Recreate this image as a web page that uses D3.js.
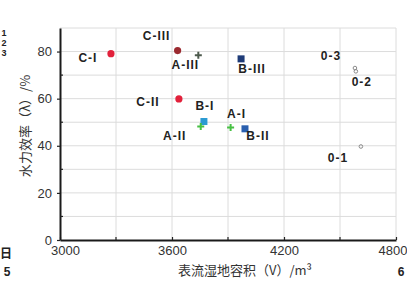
<!DOCTYPE html>
<html>
<head>
<meta charset="utf-8">
<script src="https://cdn.jsdelivr.net/npm/d3@7"></script>
<style>
  body { margin: 0; background: #fff; }
  svg { display: block; }
  .tick text { font-family: "Liberation Sans", Arial, sans-serif; font-size: 13px; fill: #333; }
  .lbl { font-family: "Liberation Sans", Arial, sans-serif; font-size: 12px; font-weight: bold; fill: #222; }
</style>
</head>
<body>
<svg id="chart" width="407" height="297"></svg>
<script>
// data
var names  = ["C-I", "C-III", "A-III", "B-III", "C-II", "B-I", "A-II", "A-I", "B-II", "0-3", "0-2", "0-1"];
var group  = ["C", "C3", "A3", "B3", "C", "B1", "A", "A", "B2", "O", "O", "O"];
var volume = [3273, 3630, 3741, 3970, 3637, 3771, 3754, 3914, 3991, 4580, 4585, 4612];
var effic  = [79.1, 80.4, 78.4, 76.9, 59.9, 50.3, 48.2, 47.8, 47.2, 73.0, 71.6, 39.7];
var xTicks = [3000, 3600, 4200, 4800];
var yTicks = [0, 20, 40, 60, 80];

var colors = { C: "#e2213b", C3: "#9b2a30", A3: "#4d5a4d", B3: "#1f3c78", B1: "#2b9ad2",
               A: "#47c043", B2: "#2a5fae", O: "#8a8a8a" };
// label offsets from each point (px)
var labelOff = [[-23, 5], [-21, -14], [-13, 11], [11, 11], [-31, 4], [1, -15],
                [-26, 10], [6, -13], [13, 8], [-24, -11], [6, 11], [-23, 12]];

var svg = d3.select("#chart");
var dim = { left: 60, right: 11, top: 28, bottom: 57, w: 407, h: 297 };

var xScale = d3.scaleLinear().domain([3000, 4800]).range([dim.left, dim.w - dim.right]);
var yScale = d3.scaleLinear().domain([0, 90]).range([dim.h - dim.bottom, dim.top]);

// grid
svg.append("g").selectAll("line.vg")
   .data(d3.range(3300, 4801, 300))
   .enter().append("line")
   .attr("x1", function(d) { return xScale(d); }).attr("x2", function(d) { return xScale(d); })
   .attr("y1", yScale(0)).attr("y2", yScale(90))
   .style("stroke", "#dcdcdc").style("stroke-width", 1);
svg.append("g").selectAll("line.hg")
   .data(d3.range(10, 91, 10))
   .enter().append("line")
   .attr("x1", xScale(3000)).attr("x2", xScale(4800))
   .attr("y1", function(d) { return yScale(d); }).attr("y2", function(d) { return yScale(d); })
   .style("stroke", "#dcdcdc").style("stroke-width", 1);

// axes
var xAxis = d3.axisBottom(xScale).tickValues(xTicks).tickSizeInner(-3).tickSizeOuter(0).tickPadding(6).tickFormat(d3.format("d"));
var gx = svg.append("g").attr("transform", "translate(0," + yScale(0) + ")").call(xAxis);
var yAxis = d3.axisLeft(yScale).tickValues(yTicks).tickSize(3).tickSizeOuter(0).tickPadding(5);
var gy = svg.append("g").attr("transform", "translate(" + xScale(3000) + ",0)").call(yAxis);
// minor ticks
svg.append("g").selectAll("line")
   .data(d3.range(10, 90, 20))
   .enter().append("line")
   .attr("x1", xScale(3000)).attr("x2", xScale(3000) + 3)
   .attr("y1", function(d) { return yScale(d); }).attr("y2", function(d) { return yScale(d); })
   .style("stroke", "#222").style("stroke-width", 1.2);
svg.append("g").selectAll("line")
   .data([3300, 3900, 4500])
   .enter().append("line")
   .attr("x1", function(d) { return xScale(d); }).attr("x2", function(d) { return xScale(d); })
   .attr("y1", yScale(0)).attr("y2", yScale(0) - 3)
   .style("stroke", "#222").style("stroke-width", 1.2);
[gx, gy].forEach(function(g) {
  g.select(".domain").style("stroke", "#1a1a1a").style("stroke-width", 2);
  g.selectAll(".tick line").style("stroke", "#222").style("stroke-width", 1.2);
});
gx.selectAll(".tick text").filter(function(d) { return d == 3000; }).attr("dx", 5);
gx.selectAll(".tick text").filter(function(d) { return d == 4800; })
  .attr("text-anchor", "end").attr("x", 11);

// points
var pts = svg.append("g");
names.forEach(function(n, i) {
  var cx = xScale(volume[i]), cy = yScale(effic[i]), g = group[i], c = colors[g];
  if (g[0] == "C") {
    pts.append("circle").attr("cx", cx).attr("cy", cy).attr("r", 3.6).style("fill", c);
  } else if (g[0] == "A") {
    pts.append("path").attr("d", "M" + (cx - 3.5) + "," + cy + "h7M" + cx + "," + (cy - 3.5) + "v7")
       .style("stroke", c).style("stroke-width", 2);
  } else if (g[0] == "B") {
    pts.append("rect").attr("x", cx - 3.5).attr("y", cy - 3.5).attr("width", 7).attr("height", 7).style("fill", c);
  } else {
    pts.append("circle").attr("cx", cx).attr("cy", cy).attr("r", 1.8)
       .style("fill", "none").style("stroke", c).style("stroke-width", 1);
  }
  pts.append("text").attr("class", "lbl")
     .attr("x", cx + labelOff[i][0]).attr("y", cy + labelOff[i][1])
     .attr("text-anchor", "middle").attr("dominant-baseline", "middle")
     .style("letter-spacing", "1px")
     .text(n);
});

// axis titles
svg.append("text")
   .attr("transform", "translate(26," + 126 + ") rotate(-90)")
   .attr("text-anchor", "middle").attr("dominant-baseline", "middle")
   .style("font-family", "'Noto Sans CJK SC', sans-serif").style("font-size", "13px").style("fill", "#333")
   .text("水力效率（λ）/%");
svg.append("text")
   .attr("x", 245).attr("y", 271)
   .attr("text-anchor", "middle").attr("dominant-baseline", "middle")
   .style("font-family", "'Noto Sans CJK SC', sans-serif").style("font-size", "13px").style("fill", "#333")
   .text("表流湿地容积（V）/m³");

// stray page fragments at the edges
var frag = [["1", 4, 34, 9], ["2", 4, 44, 9], ["3", 4, 54, 9], ["日", 6, 255, 12], ["5", 7, 273, 12], ["6", 401, 273, 12]];
svg.append("g").selectAll("text").data(frag).enter().append("text")
   .attr("x", function(d) { return d[1]; }).attr("y", function(d) { return d[2]; })
   .attr("text-anchor", "middle").attr("dominant-baseline", "middle")
   .style("font-family", function(d) { return d[0] == "日" ? "'Noto Sans CJK SC', sans-serif" : "'Liberation Sans', Arial, sans-serif"; })
   .style("font-size", function(d) { return d[3] + "px"; })
   .style("font-weight", "bold").style("fill", "#222")
   .text(function(d) { return d[0]; });
</script>
</body>
</html>
